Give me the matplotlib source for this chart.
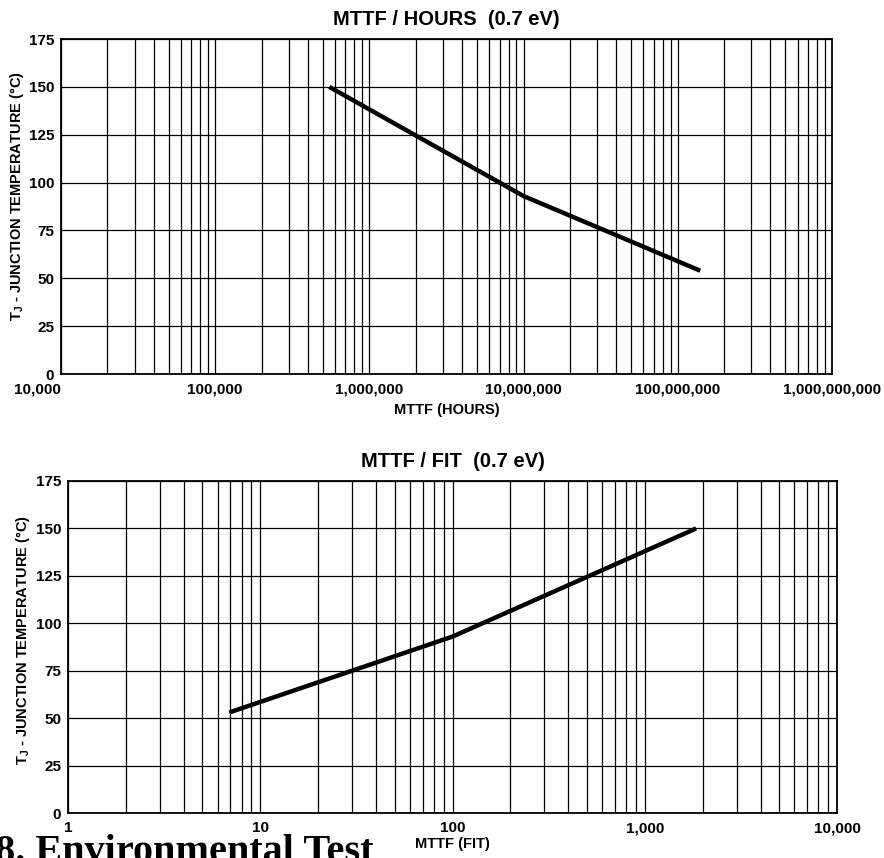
import matplotlib
matplotlib.use("Agg")
import matplotlib.pyplot as plt
from matplotlib.ticker import FuncFormatter, LogLocator, NullFormatter

plt.rcParams['font.family'] = ['Liberation Sans', 'DejaVu Sans']
plt.rcParams['font.weight'] = 'bold'
plt.rcParams['mathtext.fontset'] = 'custom'
plt.rcParams['mathtext.rm'] = 'Liberation Sans:bold'
plt.rcParams['mathtext.bf'] = 'Liberation Sans:bold'

# top chart: MTTF in hours vs junction temperature
hours_mttf = [5.5e5, 1.0e7, 1.4e8]
hours_temp = [150, 93, 54]
hours_xlim = (1e4, 1e9)

# bottom chart: FIT vs junction temperature
fit_vals = [6.9, 100, 1850]
fit_temp = [53, 93, 150]
fit_xlim = (1, 1e4)

y_ticks = [0, 25, 50, 75, 100, 125, 150, 175]
ylab = r"T$_\mathregular{J}$ - JUNCTION TEMPERATURE ($\degree$C)"


def comma(v, pos):
    return f"{int(round(v)):,}"


def setup(ax, xlim, title, xlabel):
    ax.set_xscale('log')
    ax.set_xlim(*xlim)
    ax.set_ylim(0, 175)
    ax.set_yticks(y_ticks)
    ax.xaxis.set_major_locator(LogLocator(base=10, numticks=20))
    ax.xaxis.set_minor_locator(LogLocator(base=10, subs=range(2, 10), numticks=100))
    ax.xaxis.set_major_formatter(FuncFormatter(comma))
    ax.xaxis.set_minor_formatter(NullFormatter())
    ax.grid(True, which='both', axis='x', color='black', lw=0.9)
    ax.grid(True, which='major', axis='y', color='black', lw=0.9)
    ax.tick_params(which='both', length=0, labelsize=11, pad=6)
    ax.tick_params(axis='y', pad=5)
    for s in ax.spines.values():
        s.set_linewidth(1.3)
    ax.set_title(title, fontsize=14.5, fontweight='bold', pad=10)
    ax.set_xlabel(xlabel, fontsize=10.5, fontweight='bold', labelpad=5)
    ax.set_ylabel(ylab, fontsize=10.5, fontweight='bold')


fig = plt.figure(figsize=(8.84, 8.58), dpi=100)

ax1 = fig.add_axes([0.069, 0.564, 0.872, 0.3905])
ax1.plot(hours_mttf, hours_temp, color='black', lw=3.2, solid_capstyle='butt')
setup(ax1, hours_xlim, "MTTF / HOURS  (0.7 eV)", "MTTF (HOURS)")
ax1.yaxis.set_label_coords(-0.045, 0.53)

ax2 = fig.add_axes([0.0769, 0.0524, 0.870, 0.387])
ax2.plot(fit_vals, fit_temp, color='black', lw=3.2, solid_capstyle='butt')
setup(ax2, fit_xlim, "MTTF / FIT  (0.7 eV)", "MTTF (FIT)")
ax2.xaxis.labelpad = 1
ax2.yaxis.set_label_coords(-0.047, 0.52)

fig.canvas.draw()
for lab in ax1.get_xticklabels():
    if lab.get_text() == "10,000":
        lab.set_ha('right')

fig.text(-0.006, -0.005, "8. Environmental Test", fontfamily='Liberation Serif',
         fontweight='bold', fontsize=29, va='baseline', ha='left')

fig.savefig("out.png", dpi=100)
